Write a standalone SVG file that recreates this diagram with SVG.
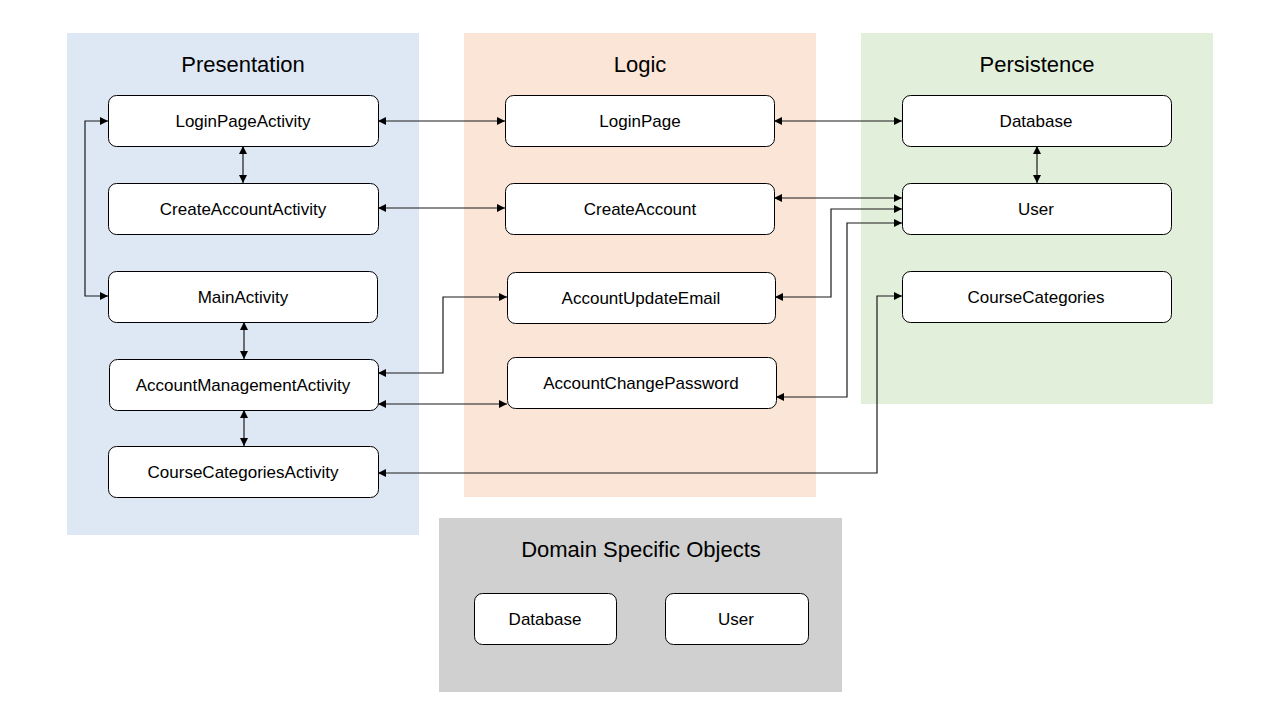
<svg xmlns="http://www.w3.org/2000/svg" width="1280" height="720" viewBox="0 0 1280 720">
<defs>
<marker id="ah" viewBox="0 0 10 10" refX="10" refY="5" markerWidth="8" markerHeight="8" markerUnits="userSpaceOnUse" orient="auto-start-reverse">
<path d="M0,0 L10,5 L0,10 z" fill="#000"/>
</marker>
<style>
.node rect{fill:#fff;stroke:#000;stroke-width:1}
.node text{font-family:"Liberation Sans",Arial,sans-serif;font-size:17px;fill:#000;text-anchor:middle;dominant-baseline:central}
.title{font-family:"Liberation Sans",Arial,sans-serif;font-size:22px;fill:#000;text-anchor:middle;dominant-baseline:central}
#connectors path{fill:none;stroke:#1a1a1a;stroke-width:1.2;marker-start:url(#ah);marker-end:url(#ah)}
</style>
</defs>
<rect width="1280" height="720" fill="#fff"/>
<g id="panels">
<rect x="67" y="33" width="352" height="502" fill="#dee8f4"/>
<rect x="464" y="33" width="352" height="464" fill="#fbe5d6"/>
<rect x="861" y="33" width="352" height="371" fill="#e2efda"/>
<rect x="439" y="518" width="403" height="174" fill="#d0d0d0"/>
<text class="title" x="243" y="64">Presentation</text>
<text class="title" x="640" y="64">Logic</text>
<text class="title" x="1037" y="64">Persistence</text>
<text class="title" x="641" y="549">Domain Specific Objects</text>
</g>
<g id="connectors">
<path d="M378,121 H505"/>
<path d="M243,146 V183"/>
<path d="M378,208 H505"/>
<path d="M108,121 H85 V296 H108"/>
<path d="M244,322 V359"/>
<path d="M244,410 V446"/>
<path d="M378,373 H443 V297 H507"/>
<path d="M378,404 H507"/>
<path d="M774,121 H902"/>
<path d="M1037,146 V183"/>
<path d="M774,198 H902"/>
<path d="M775,297 H831 V209 H902"/>
<path d="M776,397 H847 V223 H902"/>
<path d="M378,473 H877 V296 H902"/>
</g>
<g id="LoginPageActivity" class="node"><rect x="108.5" y="95.5" width="270" height="51" rx="8"/><text x="243" y="121">LoginPageActivity</text></g>
<g id="CreateAccountActivity" class="node"><rect x="108.5" y="183.5" width="270" height="51" rx="8"/><text x="243" y="209">CreateAccountActivity</text></g>
<g id="MainActivity" class="node"><rect x="108.5" y="271.5" width="269" height="51" rx="8"/><text x="243" y="297">MainActivity</text></g>
<g id="AccountManagementActivity" class="node"><rect x="109.5" y="359.5" width="269" height="51" rx="8"/><text x="243" y="385">AccountManagementActivity</text></g>
<g id="CourseCategoriesActivity" class="node"><rect x="108.5" y="446.5" width="270" height="51" rx="8"/><text x="243" y="472">CourseCategoriesActivity</text></g>
<g id="LoginPage" class="node"><rect x="505.5" y="95.5" width="269" height="51" rx="8"/><text x="640" y="121">LoginPage</text></g>
<g id="CreateAccount" class="node"><rect x="505.5" y="183.5" width="269" height="51" rx="8"/><text x="640" y="209">CreateAccount</text></g>
<g id="AccountUpdateEmail" class="node"><rect x="507.5" y="272.5" width="268" height="51" rx="8"/><text x="641" y="298">AccountUpdateEmail</text></g>
<g id="AccountChangePassword" class="node"><rect x="507.5" y="357.5" width="269" height="51" rx="8"/><text x="641" y="383">AccountChangePassword</text></g>
<g id="Database" class="node"><rect x="902.5" y="95.5" width="269" height="51" rx="8"/><text x="1036" y="121">Database</text></g>
<g id="User" class="node"><rect x="902.5" y="183.5" width="269" height="51" rx="8"/><text x="1036" y="209">User</text></g>
<g id="CourseCategories" class="node"><rect x="902.5" y="271.5" width="269" height="51" rx="8"/><text x="1036" y="297">CourseCategories</text></g>
<g id="DomainDatabase" class="node"><rect x="474.5" y="593.5" width="142" height="51" rx="8"/><text x="545" y="619">Database</text></g>
<g id="DomainUser" class="node"><rect x="665.5" y="593.5" width="143" height="51" rx="8"/><text x="736" y="619">User</text></g>
</svg>
